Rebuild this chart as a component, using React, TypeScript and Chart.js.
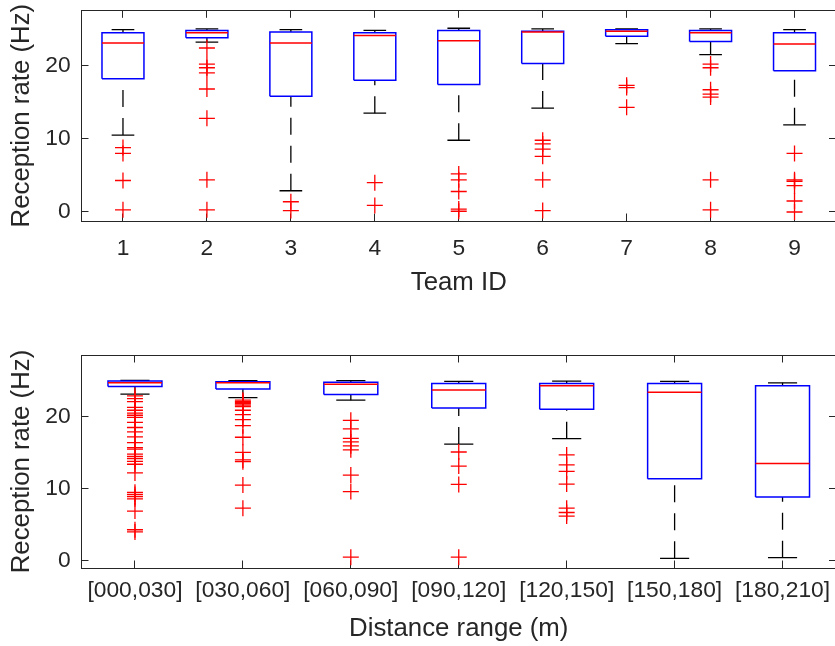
import React, { useEffect, useRef } from 'react';
import { Chart, registerables } from 'chart.js';

Chart.register(...registerables);

const FONT = '"Liberation Sans", Arial, Helvetica, sans-serif';
const TEXT = '#262626';

// ---- Top subplot: reception rate per team ----
const teamLabels = ['1', '2', '3', '4', '5', '6', '7', '8', '9'];
const teamLowerWhisker = [10.5, 23.2, 2.9, 13.5, 9.8, 14.2, 23.0, 21.5, 11.9];
const teamQ1 = [18.2, 23.8, 15.8, 18.0, 17.4, 20.3, 24.0, 23.3, 19.3];
const teamMedian = [23.1, 24.5, 23.1, 24.1, 23.4, 24.6, 24.7, 24.5, 22.95];
const teamQ3 = [24.5, 24.8, 24.6, 24.5, 24.8, 24.7, 24.9, 24.8, 24.5];
const teamUpperWhisker = [24.9, 25.0, 24.9, 24.8, 25.1, 25.0, 25.0, 25.0, 24.9];
const teamOutliers = [
  [8.8, 8.0, 4.3, 0.3],
  [22.4, 20.2, 19.7, 19.0, 16.8, 12.8, 4.4, 0.3],
  [1.4, 0.2],
  [4.0, 0.9],
  [5.2, 4.4, 2.8, 0.4, 0.1],
  [9.8, 9.3, 8.6, 7.6, 4.4, 0.2],
  [17.3, 17.0, 14.3],
  [20.2, 19.7, 16.7, 16.1, 15.7, 4.4, 0.3],
  [8.0, 4.4, 4.2, 3.6, 1.5, 0.0],
];

// ---- Bottom subplot: reception rate per distance range ----
const distLabels = ['[000,030]', '[030,060]', '[060,090]', '[090,120]', '[120,150]', '[150,180]', '[180,210]'];
const distLowerWhisker = [23.15, 22.65, 22.3, 16.2, 16.95, 0.33, 0.42];
const distQ1 = [24.2, 23.85, 23.1, 21.2, 21.05, 11.4, 8.85];
const distMedian = [24.7, 24.7, 24.5, 23.7, 24.3, 23.4, 13.5];
const distQ3 = [24.96, 24.87, 24.8, 24.6, 24.6, 24.6, 24.3];
const distUpperWhisker = [25.05, 25.0, 25.0, 24.9, 24.95, 24.9, 24.7];
const distOutliers = [
  [22.9, 22.5, 22.1, 21.3, 20.9, 20.5, 20.2, 19.9, 19.2, 18.5, 17.9, 17.2, 16.4, 15.7, 15.5, 14.8, 14.5, 14.2, 13.8, 13.4, 12.2, 9.5, 9.2, 8.9, 8.6, 6.9, 4.3, 4.0],
  [22.3, 22.1, 22.0, 21.8, 21.6, 21.4, 20.9, 20.3, 19.6, 18.75, 17.15, 15.05, 14.0, 13.75, 10.5, 7.3],
  [19.5, 18.3, 17.0, 16.5, 15.95, 15.4, 11.9, 9.6, 0.5],
  [15.1, 13.15, 10.6, 0.5],
  [14.7, 13.3, 12.4, 10.65, 7.3, 6.7, 6.2],
  [],
  [],
];

const yTicks = [0, 10, 20];

type Pt = { x: number; y: number | null };

function buildDatasets(lw: number[], q1: number[], med: number[], q3: number[], uw: number[], outs: number[][]) {
  const half = 0.25;
  const capHalf = 0.135;
  const box: Pt[] = [];
  const medians: Pt[] = [];
  const whiskers: Pt[] = [];
  const caps: Pt[] = [];
  const outliers: Pt[] = [];
  q1.forEach((_, i) => {
    const c = i + 1;
    box.push(
      { x: c - half, y: q1[i] }, { x: c - half, y: q3[i] }, { x: c + half, y: q3[i] },
      { x: c + half, y: q1[i] }, { x: c - half, y: q1[i] }, { x: c, y: null },
    );
    medians.push({ x: c - half, y: med[i] }, { x: c + half, y: med[i] }, { x: c, y: null });
    whiskers.push(
      { x: c, y: lw[i] }, { x: c, y: q1[i] }, { x: c, y: null },
      { x: c, y: uw[i] }, { x: c, y: q3[i] }, { x: c, y: null },
    );
    caps.push(
      { x: c - capHalf, y: lw[i] }, { x: c + capHalf, y: lw[i] }, { x: c, y: null },
      { x: c - capHalf, y: uw[i] }, { x: c + capHalf, y: uw[i] }, { x: c, y: null },
    );
    outs[i].forEach((v) => outliers.push({ x: c, y: v }));
  });
  const lineBase = { type: 'line' as const, pointRadius: 0, fill: false, spanGaps: false, tension: 0 };
  return [
    {
      type: 'line' as const, label: 'outliers', data: outliers, showLine: false,
      pointStyle: 'cross', pointRadius: 8, pointBorderColor: '#FF0000', borderColor: '#FF0000',
      pointBorderWidth: 1.3, pointBackgroundColor: 'rgba(0,0,0,0)',
    },
    { ...lineBase, label: 'median', data: medians, borderColor: '#FF0000', borderWidth: 1.5 },
    { ...lineBase, label: 'box', data: box, borderColor: '#0000FF', borderWidth: 1.5, borderJoinStyle: 'miter' as const },
    { ...lineBase, label: 'caps', data: caps, borderColor: '#000000', borderWidth: 1.3 },
    { ...lineBase, label: 'whiskers', data: whiskers, borderColor: '#000000', borderWidth: 1.3, borderDash: [17, 11] },
  ];
}

interface Spec {
  labels: string[];
  lw: number[]; q1: number[]; med: number[]; q3: number[]; uw: number[]; outs: number[][];
  yMin: number; yMax: number;
  xTitle: string;
  padTop: number;
  xHeight: number;
  xLabelPad: number;
  xTitlePadBottom: number;
}

const TICK_FONT = { family: FONT, size: 22.8 };
const TITLE_FONT = { family: FONT, size: 25.8 };
const TICK_LEN = -7.5;
const CANVAS_W = 845;
const CANVAS_H = 323;

function zeroPadding(s: any) {
  s.paddingTop = 0;
  s.paddingBottom = 0;
  s.paddingLeft = 0;
  s.paddingRight = 0;
}

function makeConfig(spec: Spec): any {
  const n = spec.labels.length;
  const xTickSetter = (scale: any) => {
    scale.ticks = spec.labels.map((_, i) => ({ value: i + 1 }));
  };
  const yTickSetter = (scale: any) => {
    scale.ticks = yTicks.map((v) => ({ value: v }));
  };
  const grid = { display: true, drawOnChartArea: false, drawTicks: true, tickLength: TICK_LEN, tickColor: TEXT, tickWidth: 1, color: TEXT };
  const border = { display: true, color: TEXT, width: 1 };
  return {
    type: 'line',
    data: { datasets: buildDatasets(spec.lw, spec.q1, spec.med, spec.q3, spec.uw, spec.outs) },
    options: {
      animation: false,
      responsive: false,
      events: [],
      layout: { autoPadding: false, padding: { top: spec.padTop, right: CANVAS_W - 836.5, left: 0, bottom: 0 } },
      plugins: { legend: { display: false }, tooltip: { enabled: false } },
      scales: {
        x: {
          type: 'linear', position: 'bottom', min: 0.5, max: n + 0.5,
          afterBuildTicks: xTickSetter,
          afterFit: (s: any) => { s.height = spec.xHeight; zeroPadding(s); },
          ticks: {
            autoSkip: false, maxRotation: 0, minRotation: 0, color: TEXT, font: TICK_FONT, padding: spec.xLabelPad,
            callback: (v: any) => spec.labels[Math.round(Number(v)) - 1] ?? '',
          },
          grid, border,
          title: { display: true, text: spec.xTitle, color: TEXT, font: TITLE_FONT, padding: { top: 0, bottom: spec.xTitlePadBottom } },
        },
        x2: {
          type: 'linear', position: 'top', min: 0.5, max: n + 0.5,
          afterBuildTicks: xTickSetter,
          afterFit: (s: any) => { s.height = 0; zeroPadding(s); },
          ticks: { display: false },
          grid, border,
        },
        y: {
          type: 'linear', position: 'left', min: spec.yMin, max: spec.yMax,
          afterBuildTicks: yTickSetter,
          afterFit: (s: any) => { s.width = 81; zeroPadding(s); },
          ticks: { color: TEXT, font: TICK_FONT, padding: 17.8 },
          grid, border,
          title: { display: true, text: 'Reception rate (Hz)', color: TEXT, font: TITLE_FONT, padding: { top: 6.9, bottom: 0 } },
        },
        y2: {
          type: 'linear', position: 'right', min: spec.yMin, max: spec.yMax,
          afterBuildTicks: yTickSetter,
          afterFit: (s: any) => { s.width = 0; zeroPadding(s); },
          ticks: { display: false },
          grid, border,
        },
      },
    },
  };
}

const topSpec: Spec = {
  labels: teamLabels, lw: teamLowerWhisker, q1: teamQ1, med: teamMedian, q3: teamQ3, uw: teamUpperWhisker, outs: teamOutliers,
  yMin: -1.23, yMax: 27.55, xTitle: 'Team ID',
  padTop: 10.3, xHeight: CANVAS_H - 221, xLabelPad: 21.1, xTitlePadBottom: 25,
};

const bottomSpec: Spec = {
  labels: distLabels, lw: distLowerWhisker, q1: distQ1, med: distMedian, q3: distQ3, uw: distUpperWhisker, outs: distOutliers,
  yMin: -1.01, yMax: 28.57, xTitle: 'Distance range (m)',
  padTop: 355 - CANVAS_H, xHeight: CANVAS_H - (568 - CANVAS_H), xLabelPad: 16.5, xTitlePadBottom: 1.7,
};

function BoxPlot({ spec, top }: { spec: Spec; top: number }) {
  const ref = useRef<HTMLCanvasElement>(null);
  useEffect(() => {
    const chart = new Chart(ref.current as HTMLCanvasElement, makeConfig(spec));
    return () => chart.destroy();
  }, [spec]);
  return (
    <canvas
      ref={ref}
      width={CANVAS_W}
      height={CANVAS_H}
      style={{ position: 'absolute', left: 0, top, width: CANVAS_W, height: CANVAS_H }}
    />
  );
}

export default function App() {
  return (
    <div style={{ position: 'fixed', left: 0, top: 0, width: 835, height: 646, overflow: 'hidden', background: '#ffffff' }}>
      <BoxPlot spec={topSpec} top={0} />
      <BoxPlot spec={bottomSpec} top={CANVAS_H} />
    </div>
  );
}
